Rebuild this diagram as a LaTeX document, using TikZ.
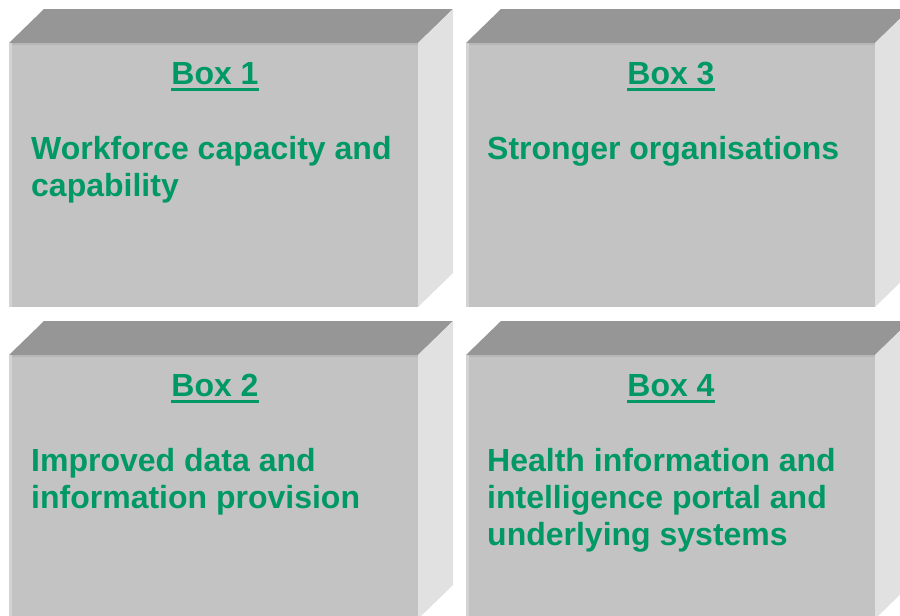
\documentclass[tikz,border=0pt]{standalone}
\usepackage{fontspec}
\setmainfont{Liberation Sans}
\definecolor{labelgreen}{RGB}{0,153,102}
\definecolor{frontgray}{RGB}{195,195,195}
\definecolor{topgray}{RGB}{150,150,150}
\definecolor{sidegray}{RGB}{225,225,225}
\definecolor{edgelight}{RGB}{211,211,211}
\definecolor{edgedark}{RGB}{182,182,182}
\begin{document}
\begin{tikzpicture}[x=1pt,y=-1pt,
  boxfont/.style={font=\fontsize{32}{37}\selectfont\bfseries, text=labelgreen, inner sep=0pt},
  boxtitle/.style={boxfont, anchor=base},
  boxbody/.style={boxfont, anchor=north west, align=left},
  uline/.style={draw=labelgreen, line width=2.6pt},
  cube/.pic={
    % bevelled slab: top face, right face, front face
    \fill[topgray]  (0,0) -- (35,-34) -- (444,-34) -- (409,0) -- cycle;
    \fill[sidegray] (409,0) -- (444,-34) -- (444,230) -- (409,264) -- cycle;
    \fill[frontgray] (0,0) rectangle (409,264);
    \fill[edgedark]  (0,0) rectangle (409,2);
    \fill[edgelight] (0,0) rectangle (3,264);
  }]
\useasboundingbox (0,0) rectangle (900,616);
\clip (0,0) rectangle (900,616);

\pic at (9,43)   {cube};
\pic at (466,43) {cube};
\pic at (9,355)  {cube};
\pic at (466,355){cube};

% titles
\node[boxtitle] (t1) at (215,84.5)  {Box 1};
\node[boxtitle] (t3) at (671,84.5)  {Box 3};
\node[boxtitle] (t2) at (215,396.5) {Box 2};
\node[boxtitle] (t4) at (671,396.5) {Box 4};
\foreach \t in {t1,t2,t3,t4}
  \draw[uline] ([yshift=-5pt]\t.base west) -- ([yshift=-5pt]\t.base east);

% descriptions (strut fixes the first baseline 25.9pt below the top)
\node[boxbody] (b1) at (31,133.1)  {\strut Workforce capacity and\\capability};
\node[boxbody] (b3) at (487,133.1) {\strut Stronger organisations};
\node[boxbody] (b2) at (31,445.1)  {\strut Improved data and\\information provision};
\node[boxbody] (b4) at (487,445.1) {\strut Health information and\\intelligence portal and\\underlying systems};
\end{tikzpicture}
\end{document}
